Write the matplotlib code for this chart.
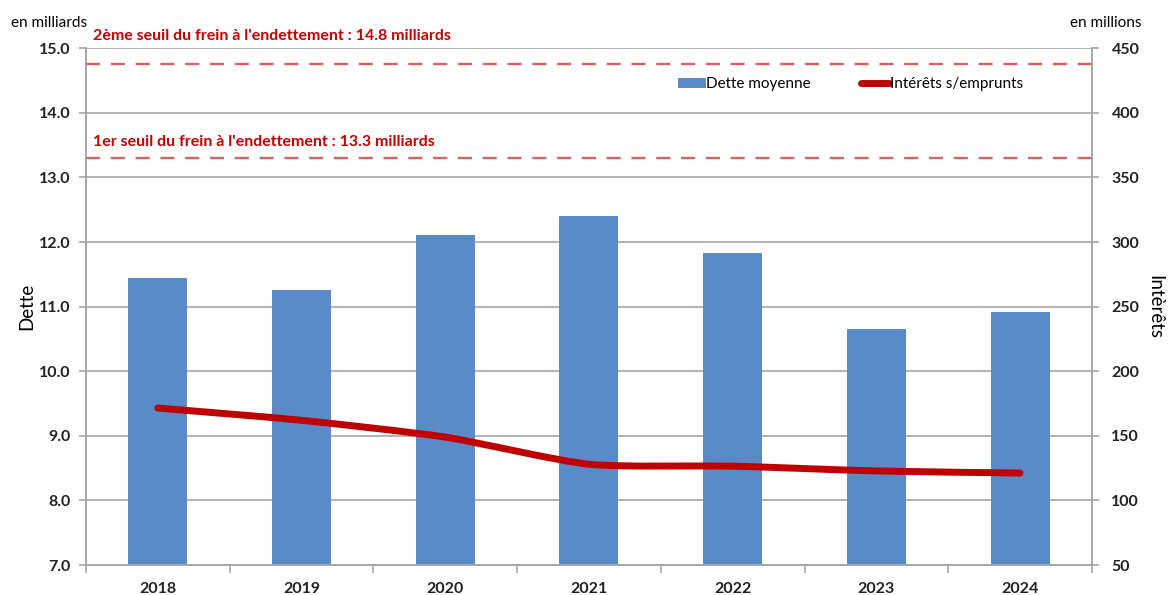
import numpy as np
import matplotlib.pyplot as plt
from matplotlib.path import Path
from matplotlib.patches import PathPatch
from matplotlib.lines import Line2D
from matplotlib.patches import Patch

plt.rcParams['font.family'] = ['Lato', 'DejaVu Sans']

years = ['2018', '2019', '2020', '2021', '2022', '2023', '2024']
dette = [11.44, 11.25, 12.11, 12.41, 11.83, 10.65, 10.91]
interets = [171.5, 162.0, 149.0, 128.0, 126.5, 122.8, 121.2]
seuil1 = 13.3
seuil2 = 14.8

grey = '#a6a6a6'
blue = '#5a8bc9'
red = '#c00000'
dash_red = '#d46464'


def smooth_path(xs, ys, k=9.0):
    # excel-style smoothed line: catmull-rom segments as cubic beziers
    pts = np.column_stack([xs, ys])
    verts = [pts[0]]
    codes = [Path.MOVETO]
    n = len(pts)
    for i in range(n - 1):
        p0 = pts[i - 1] if i > 0 else pts[i]
        p1, p2 = pts[i], pts[i + 1]
        p3 = pts[i + 2] if i + 2 < n else pts[i + 1]
        c1 = p1 + (p2 - p0) / k
        c2 = p2 - (p3 - p1) / k
        verts += [c1, c2, p2]
        codes += [Path.CURVE4] * 3
    return Path(verts, codes)


fig = plt.figure(figsize=(11.71, 5.95), dpi=100)
ax = fig.add_axes([0.0734, 0.0504, 0.8591, 0.8686])
ax2 = ax.twinx()

x = np.arange(len(years))
ax.bar(x, dette, width=0.41, color=blue, zorder=2)
ax.set_xlim(-0.5, len(years) - 0.5)
ax.set_ylim(7, 15)
ax.set_yticks(np.arange(7, 15.1, 1))
ax.set_yticklabels([f'{v:.1f}' for v in np.arange(7, 15.1, 1)])
ax.yaxis.grid(True, color=grey, linewidth=1.2, zorder=0)
ax.set_axisbelow(True)

# threshold lines sit a touch below their nominal value in the original
ax.axhline(seuil2 - 0.04, color=dash_red, linestyle=(0, (6, 4.5)), linewidth=1.7, zorder=3)
ax.axhline(seuil1, color=dash_red, linestyle=(0, (6, 4.5)), linewidth=1.7, zorder=3)
ax.text(0.007, 15.08, "2ème seuil du frein à l'endettement : 14.8 milliards",
        transform=ax.get_yaxis_transform(), color=red, fontsize=11.5, fontweight='bold',
        va='bottom', ha='left', clip_on=False)
ax.text(0.007, seuil1 + 0.14, "1er seuil du frein à l'endettement : 13.3 milliards",
        transform=ax.get_yaxis_transform(), color=red, fontsize=11.5, fontweight='bold',
        va='bottom', ha='left')

ax2.set_ylim(50, 450)
ax2.set_yticks(np.arange(50, 451, 50))
path = smooth_path(x, interets)
ax2.add_patch(PathPatch(path, facecolor='none', edgecolor=red, linewidth=5,
                        capstyle='round', joinstyle='round', zorder=4))

ax.set_xticks(x)
ax.set_xticklabels(years)
ax.set_xticks(np.arange(-0.5, len(years), 1), minor=True)
ax.tick_params(axis='x', which='major', length=0, pad=12)
ax.tick_params(axis='x', which='minor', length=6, color=grey, width=1.2)
ax.tick_params(axis='y', length=5, color=grey, width=1.2, pad=6)
ax2.tick_params(axis='y', length=5, color=grey, width=1.2, pad=9)

for a in (ax, ax2):
    for s in a.spines.values():
        s.set_color(grey)
        s.set_linewidth(1.2)
    a.spines['top'].set_visible(False)
    for lbl in a.get_xticklabels() + a.get_yticklabels():
        lbl.set_fontweight('bold')
        lbl.set_fontsize(11.5)
        lbl.set_color('#222222')

ax.set_ylabel('Dette', fontsize=13.5, labelpad=3)
ax2.set_ylabel('Intèrêts', fontsize=13.5, rotation=-90, labelpad=17)

fig.text(0.009, 0.962, 'en milliards', fontsize=11, ha='left', va='center')
fig.text(0.975, 0.962, 'en millions', fontsize=11, ha='right', va='center')

handles = [Patch(facecolor=blue, edgecolor='none'),
           Line2D([0], [0], color=red, linewidth=5, solid_capstyle='round')]
ax.legend(handles, ['Dette moyenne', 'Intérêts s/emprunts'], loc='upper left',
          bbox_to_anchor=(0.575, 0.97), ncol=2, frameon=False, fontsize=11,
          handlelength=1.8, handletextpad=0.05, columnspacing=3.3)

fig.savefig('out.png', dpi=100)
